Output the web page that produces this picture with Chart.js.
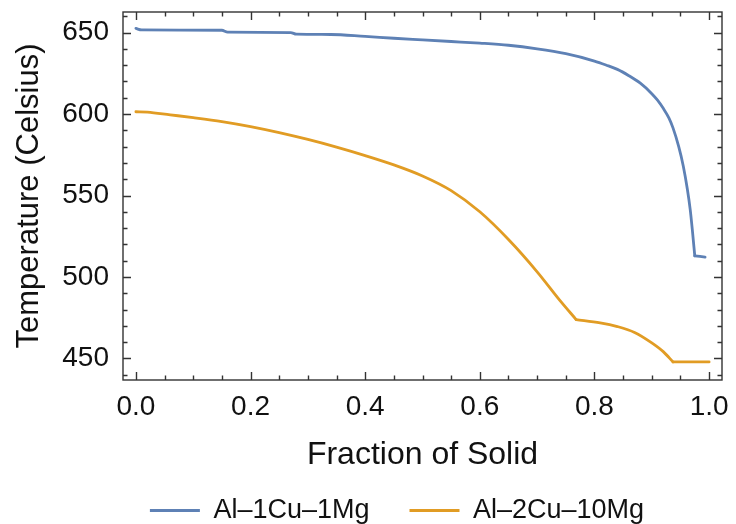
<!DOCTYPE html>
<html>
<head>
<meta charset="utf-8">
<script src="https://cdn.jsdelivr.net/npm/chart.js@4/dist/chart.umd.min.js"></script>
<style>
html,body{margin:0;padding:0;background:#fff;}
#wrap{width:736px;height:524px;}
</style>
</head>
<body>
<div id="wrap"><canvas id="c" width="736" height="524"></canvas></div>
<script>
// ---- data ----
const seriesNames = ["Al\u20131Cu\u20131Mg", "Al\u20132Cu\u201310Mg"];
const fracBlue = [0.0, 0.01, 0.15, 0.16, 0.27, 0.28, 0.34, 0.40, 0.45, 0.50, 0.55, 0.60, 0.65, 0.70, 0.75, 0.80, 0.82, 0.84, 0.86, 0.88, 0.90, 0.91, 0.92, 0.93, 0.937, 0.947, 0.955, 0.962, 0.967, 0.971, 0.975, 0.993];
const tempBlue = [652.5, 651.6, 651.4, 650.3, 650.0, 649.0, 648.8, 647.6, 646.5, 645.5, 644.5, 643.5, 642.2, 640.0, 637.0, 632.5, 630.1, 627.4, 623.5, 618.9, 612.5, 608.5, 603.5, 597.5, 591.5, 580.0, 568.0, 554.0, 541.5, 528.0, 513.0, 512.2];
const fracOrange = [0.0, 0.02, 0.06, 0.10, 0.15, 0.20, 0.25, 0.30, 0.35, 0.40, 0.45, 0.50, 0.55, 0.60, 0.65, 0.70, 0.74, 0.768, 0.81, 0.84, 0.87, 0.90, 0.92, 0.937, 1.0];
const tempOrange = [601.4, 601.2, 599.5, 597.8, 595.4, 592.3, 588.6, 584.4, 579.7, 574.5, 568.8, 562.0, 553.0, 540.0, 523.0, 503.2, 485.5, 473.9, 471.9, 469.6, 466.0, 459.6, 454.2, 447.9, 447.9];
// fractions where a curve has a sharp corner (phase change)
const cornersBlue = [0.975];
const cornersOrange = [0.768, 0.937];
const xMajorTicks = [0.0, 0.2, 0.4, 0.6, 0.8, 1.0];
const yMajorTicks = [450, 500, 550, 600, 650];
const xMinorStep = 0.05;
const yMinorStep = 10;
const xTitle = "Fraction of Solid";
const yTitle = "Temperature (Celsius)";

const BLUE = "#5E81B5";
const ORANGE = "#E19C24";
const FONT = "'Liberation Sans', Arial, sans-serif";

// split a series into smooth pieces at its corners (corner point shared by both pieces)
function pieces(xs, ys, corners){
  const out = []; let cur = [];
  xs.forEach((x,i)=>{
    cur.push({x:x, y:ys[i]});
    if (corners.some(c => Math.abs(c - x) < 1e-9)) { out.push(cur); cur = [{x:x, y:ys[i]}]; }
  });
  if (cur.length > 1) out.push(cur);
  return out;
}
const seriesDefs = [
  { name: seriesNames[0], color: BLUE, parts: pieces(fracBlue, tempBlue, cornersBlue) },
  { name: seriesNames[1], color: ORANGE, parts: pieces(fracOrange, tempOrange, cornersOrange) }
];
const datasets = [];
seriesDefs.forEach((s, si) => s.parts.forEach(p => datasets.push({
  label: s.name, data: p, borderColor: s.color, backgroundColor: s.color, seriesIndex: si,
  borderWidth: 2.8, pointRadius: 0, cubicInterpolationMode: 'monotone', fill: false,
  borderJoinStyle: 'round', borderCapStyle: 'round'
})));

const frameTicks = {
  id: 'frameTicks',
  afterLayout(chart){
    const lg = chart.legend;
    if (lg) { lg.left += 36; lg.right += 36; lg.top += 10; lg.bottom += 10; }
  },
  afterDraw(chart){
    const {ctx, chartArea:a, scales:{x, y}} = chart;
    ctx.save();
    ctx.strokeStyle = '#333';
    ctx.lineWidth = 1.4;
    ctx.strokeRect(a.left, a.top, a.right - a.left, a.bottom - a.top);
    const MAJ = 8, MIN = 4.5;
    ctx.beginPath();
    for (let i = 0; i <= Math.round(1 / xMinorStep); i++) {
      const v = i * xMinorStep;
      const px = Math.round(x.getPixelForValue(v)) + 0.5;
      const isMaj = xMajorTicks.some(t => Math.abs(t - v) < 1e-6);
      const L = isMaj ? MAJ : MIN;
      ctx.moveTo(px, a.bottom); ctx.lineTo(px, a.bottom - L);
      ctx.moveTo(px, a.top); ctx.lineTo(px, a.top + L);
    }
    for (let v = 440; v <= 660; v += yMinorStep) {
      const py = Math.round(y.getPixelForValue(v)) + 0.5;
      const isMaj = yMajorTicks.includes(v);
      const L = isMaj ? MAJ : MIN;
      ctx.moveTo(a.left, py); ctx.lineTo(a.left + L, py);
      ctx.moveTo(a.right, py); ctx.lineTo(a.right - L, py);
    }
    ctx.stroke();
    ctx.restore();
  }
};

new Chart(document.getElementById('c'), {
  type: 'line',
  data: { datasets: datasets },
  options: {
    responsive: false,
    animation: false,
    devicePixelRatio: 1,
    layout: { padding: { left: 0, right: 14, top: 12, bottom: 0 } },
    plugins: {
      tooltip: { enabled: false },
      legend: {
        position: 'bottom',
        labels: {
          usePointStyle: true,
          pointStyle: 'line',
          pointStyleWidth: 50,
          boxHeight: 3,
          color: '#111',
          padding: 40,
          font: { family: FONT, size: 27 },
          generateLabels(chart){
            return seriesDefs.map((s,i)=>({
              text: s.name, strokeStyle: s.color, fillStyle: s.color,
              lineWidth: 3, pointStyle: 'line', datasetIndex: i, hidden: false, fontColor: '#111'
            }));
          }
        },
        onClick: null
      }
    },
    scales: {
      x: {
        type: 'linear', min: -0.0225, max: 1.0225,
        afterBuildTicks(s){ s.ticks = xMajorTicks.map(v=>({value:v})); },
        afterFit(s){ s.height = 67; s.paddingLeft = 0; s.paddingRight = 0; },
        grid: { display: false, drawTicks: false },
        border: { display: false },
        ticks: { color: '#111', padding: 10, font: { family: FONT, size: 28 }, maxRotation: 0,
                 callback: v => Number(v).toFixed(1) },
        title: { display: true, text: xTitle, color: '#111', font: { family: FONT, size: 32 }, padding: { top: 0, bottom: -27 } }
      },
      y: {
        type: 'linear', min: 436.8, max: 662.6,
        afterBuildTicks(s){ s.ticks = yMajorTicks.map(v=>({value:v})); },
        afterFit(s){ s.width = 123; s.paddingTop = 0; s.paddingBottom = 0; },
        grid: { display: false, drawTicks: false },
        border: { display: false },
        ticks: { color: '#111', padding: 14, font: { family: FONT, size: 28 } },
        title: { display: true, text: yTitle, color: '#111', font: { family: FONT, size: 31 }, padding: { top: 11, bottom: 0 } }
      }
    }
  },
  plugins: [frameTicks]
});
</script>
</body>
</html>
